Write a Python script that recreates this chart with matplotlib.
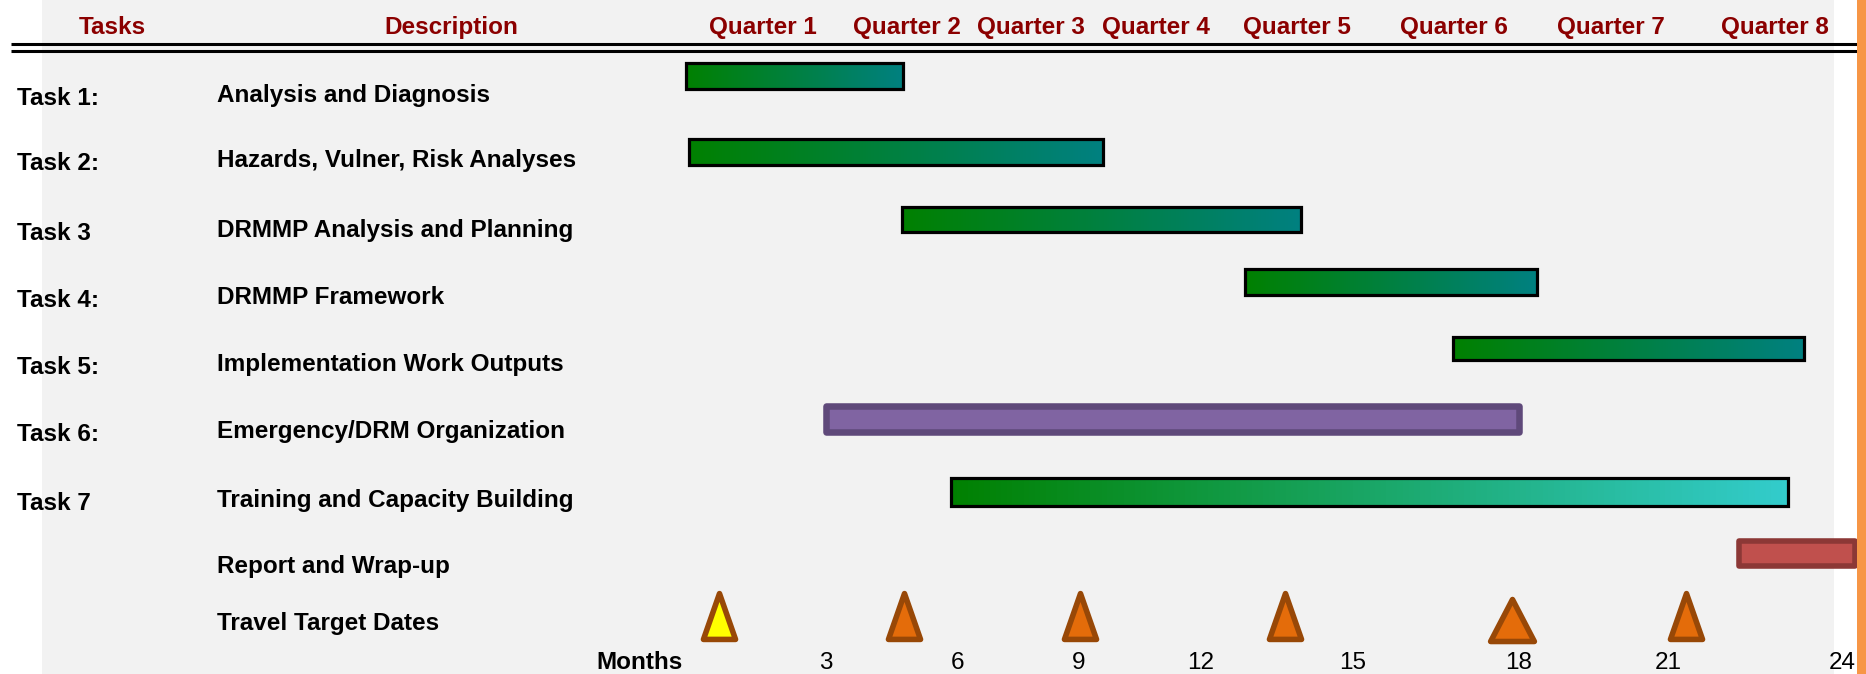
import numpy as np
import matplotlib
matplotlib.use("Agg")
import matplotlib.pyplot as plt
from matplotlib.patches import Rectangle
from matplotlib.markers import MarkerStyle
from matplotlib.path import Path
from matplotlib import transforms
from matplotlib.colors import to_rgb

# ---------------- data ----------------
task_ids = ["Task 1:", "Task 2:", "Task 3", "Task 4:", "Task 5:", "Task 6:", "Task 7", "", ""]
descriptions = ["Analysis and Diagnosis", "Hazards, Vulner, Risk Analyses",
                "DRMMP Analysis and Planning", "DRMMP Framework",
                "Implementation Work Outputs", "Emergency/DRM Organization",
                "Training and Capacity Building", "Report and Wrap-up",
                "Travel Target Dates"]
# bar start / end in months
task_start = [0.0, 0.06, 4.73, 12.87, 16.81, 3.0, 5.84, 22.22]
task_end = [4.75, 9.59, 13.97, 18.36, 23.34, 18.0, 23.07, 24.22]
bar_kind = ["teal", "teal", "teal", "teal", "teal", "purple", "cyan", "report"]
travel_months = [0.71, 4.77, 9.02, 13.66, 17.87, 21.31]
travel_fill = ["#FFFF00", "#E46C0A", "#E46C0A", "#E46C0A", "#E46C0A", "#E46C0A"]
travel_big = [False, False, False, False, True, False]
quarter_labels = ["Quarter 1", "Quarter 2", "Quarter 3", "Quarter 4",
                  "Quarter 5", "Quarter 6", "Quarter 7", "Quarter 8"]
month_ticks = [3, 6, 9, 12, 15, 18, 21, 24]

# ---------------- layout / style ----------------
W, H = 1866, 674
FS = 17.5
HDR = "#8B0000"
plt.rcParams['font.family'] = ['Liberation Sans', 'DejaVu Sans']

# hand-drawn (non-uniform) month axis: month -> pixel anchors
SCALE_M = [-30, 0, 3, 6, 9, 12, 15, 18, 21, 24, 40]
SCALE_PX = [686 - 30 * 140 / 3, 686, 826, 958, 1079, 1201, 1353, 1519, 1668, 1842, 1842 + 16 * 58]


def fwd(m):
    return np.interp(np.asarray(m, dtype=float), SCALE_M, SCALE_PX)


def inv(p):
    return np.interp(np.asarray(p, dtype=float), SCALE_PX, SCALE_M)


row_y = [76, 152, 219.5, 282, 348.5, 419, 492, 553.5]
bar_h = [26, 26, 25, 26, 23, 26, 28, 25.5]
text_base = [102, 167.5, 236.5, 304.3, 371, 437.6, 506.6, 573.2, 630.2]
quarter_px = [763, 907, 1031, 1156, 1297, 1454, 1611, 1775]

fig = plt.figure(figsize=(W / 100, H / 100), dpi=100)
fig.patch.set_facecolor("white")
ax = fig.add_axes([0, 0, 1, 1])
ax.set_xscale('function', functions=(fwd, inv))
ax.set_xlim(float(inv(0)), float(inv(W)))
ax.set_ylim(H, 0)
ax.axis('off')

blend = transforms.blended_transform_factory(ax.transAxes, ax.transData)

# background panels
ax.add_patch(Rectangle((42 / W, 0), (1834 - 42) / W, H, transform=blend,
                       fc="#F2F2F2", ec="none", zorder=0))
ax.add_patch(Rectangle((1857 / W, 0), 9 / W, H, transform=blend,
                       fc="#F79646", ec="none", zorder=6))

# header double rule
for yy in (44.3, 50.5):
    ax.plot([11 / W, 1862 / W], [yy, yy], transform=blend, color="black",
            lw=2.2, solid_capstyle="butt", zorder=4)

# header texts
ax.text(112 / W, 34, "Tasks", transform=blend, ha="center", va="baseline",
        color=HDR, fontsize=FS, fontweight="bold")
ax.text(451 / W, 34, "Description", transform=blend, ha="center", va="baseline",
        color=HDR, fontsize=FS, fontweight="bold")
for lab, px in zip(quarter_labels, quarter_px):
    ax.text(px / W, 34, lab, transform=blend, ha="center", va="baseline",
            color=HDR, fontsize=FS, fontweight="bold")

# row labels
for i, (tid, desc) in enumerate(zip(task_ids, descriptions)):
    if tid:
        ax.text(17 / W, text_base[i] + 3, tid, transform=blend, ha="left",
                va="baseline", fontsize=FS, fontweight="bold", color="black")
    ax.text(217 / W, text_base[i], desc, transform=blend, ha="left",
            va="baseline", fontsize=FS, fontweight="bold", color="black")


def gradient_bar(x0, x1, yc, h, c0, c1, n=150):
    edges = inv(np.linspace(fwd(x0), fwd(x1), n + 1))
    c0 = np.array(to_rgb(c0))
    c1 = np.array(to_rgb(c1))
    t = (np.arange(n) + 0.5) / n
    cols = c0[None, :] + (c1 - c0)[None, :] * t[:, None]
    ax.barh([yc] * n, np.diff(edges), left=edges[:-1], height=h, color=cols,
            linewidth=0, antialiased=False, zorder=2)
    ax.add_patch(Rectangle((x0, yc - h / 2), x1 - x0, h, fill=False,
                           ec="black", lw=2.3, zorder=3))


for s, e, kind, yc, h in zip(task_start, task_end, bar_kind, row_y, bar_h):
    if kind == "teal":
        gradient_bar(s, e, yc, h, "#008000", "#008080")
    elif kind == "cyan":
        gradient_bar(s, e, yc, h, "#008000", "#33CCCC")
    elif kind == "purple":
        ax.add_patch(Rectangle((s, yc - h / 2), e - s, h, fc="#8064A2",
                               ec="#5F497A", lw=4.7, joinstyle="round", zorder=2))
    elif kind == "report":
        ax.add_patch(Rectangle((s, yc - h / 2), e - s, h, fc="#C0504D",
                               ec="#8C3836", lw=4.0, joinstyle="round", zorder=2))

# travel target markers (closed triangle paths)
codes = [Path.MOVETO, Path.LINETO, Path.LINETO, Path.CLOSEPOLY]
tri_small = MarkerStyle(Path([(-0.35, -0.5), (0.35, -0.5), (0.0, 0.5), (-0.35, -0.5)], codes),
                        joinstyle="round")
tri_big = MarkerStyle(Path([(-0.5, -0.48), (0.5, -0.48), (0.0, 0.48), (-0.5, -0.48)], codes),
                      joinstyle="round")
for m, fc, big in zip(travel_months, travel_fill, travel_big):
    if big:
        ax.plot([m], [619.5], marker=tri_big, ms=31.5, mfc=fc, mec="#984807",
                mew=4.0, ls="none", zorder=3)
    else:
        ax.plot([m], [615.5], marker=tri_small, ms=33, mfc=fc, mec="#984807",
                mew=4.0, ls="none", zorder=3)

# month axis labels
ax.text(639 / W, 669, "Months", transform=blend, ha="center", va="baseline",
        fontsize=FS, fontweight="bold", color="black")
for m in month_ticks:
    ax.text(m, 669, str(m), ha="center", va="baseline", fontsize=FS, color="black")

fig.savefig("out.png", dpi=100, facecolor="white")
